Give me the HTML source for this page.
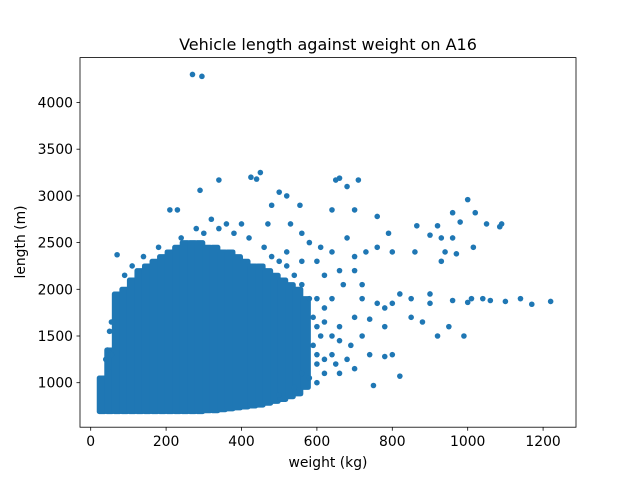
<!DOCTYPE html>
<html><head><meta charset="utf-8"><style>
body{margin:0;background:#fff;}
svg{display:block;font-family:"DejaVu Sans","Liberation Sans",sans-serif;}
</style></head><body>
<svg id="chart" width="640" height="480" viewBox="0 0 640 480">
<rect width="640" height="480" fill="#fff"/>
<text x="328" y="50" font-size="16" text-anchor="middle">Vehicle length against weight on A16</text>
<g id="plot"></g>
<rect x="80" y="57.6" width="496" height="369.6" fill="none" stroke="#000" stroke-width="0.8"/>
<g id="xt"></g>
<g id="yt"></g>
<text x="328" y="467" font-size="13.9" text-anchor="middle">weight (kg)</text>
<text transform="translate(25,242) rotate(-90)" font-size="13.9" text-anchor="middle">length (m)</text>
</svg>
<script>
const xTicks=[0,200,400,600,800,1000,1200];
const yTicks=[1000,1500,2000,2500,3000,3500,4000];
// dense core: per weight column, min and max length
const coreWeights=[30,50,70,90,110,130,150,170,190,210,230,250,270,290,310,330,350,370,390,410,430,450,470,490,510,530,550,570];
const coreMin=[690,690,690,690,690,690,690,690,690,690,690,690,690,690,700,700,710,720,730,740,750,760,780,800,820,850,880,950];
const coreMax=[1050,1350,1950,2000,2100,2200,2250,2300,2350,2400,2450,2500,2500,2500,2450,2450,2400,2400,2350,2300,2250,2250,2200,2150,2100,2050,2000,1900];
const ptWeights=[270,295,290,340,425,450,440,500,520,480,555,650,660,680,710,640,700,760,210,230,320,70,865,920,1000,1020,960,980,1050,1090,1085,790,900,930,960,1015,940,970,860,930,760,730,800,680,700,1220,1170,1140,1100,1060,1010,960,900,850,800,760,720,700,740,780,850,880,950,990,920,740,780,800,750,820,650,700,660,620,640,670,720,620,660,700,600,640,580,560,610,530,470,400,360,280,1000,1040,900,820,780,690,720,640,600,620,660,580,40,45,55,60,590,600,610,590,600,620,600,580,560,540,520,500,480,560,540,500,600,620,640,660,680,560,520,460,420,380,340,300,240,180,140,110,90,60,50,55,45];
const ptLengths=[4300,4280,3060,3170,3200,3250,3180,3040,3000,2900,2900,3170,3190,3100,3170,2850,2850,2780,2850,2850,2750,2370,2680,2680,2960,2820,2820,2720,2700,2700,2670,2600,2580,2550,2550,2450,2400,2380,2400,2300,2450,2400,2400,2550,2350,1870,1840,1900,1870,1880,1900,1880,1850,1900,1850,1850,1900,1700,1680,1600,1700,1650,1600,1500,1500,1300,1280,1300,970,1070,1200,1150,1600,1800,1900,2050,2050,2150,2200,2200,2300,2400,2500,2600,2450,2700,2700,2700,2700,2650,1860,1900,1950,1950,1800,1400,1500,1300,1000,1100,1100,1050,1250,1350,1650,1550,1700,1600,1500,1400,1300,1250,1200,1900,2050,2150,2250,2300,2350,1100,950,870,1900,1650,1500,1450,1250,2300,2400,2450,2550,2600,2650,2600,2550,2450,2350,2250,2150,1650,1550,1300,1150];
const X=v=>90.7+v*0.377;
const Y=v=>382.7-(v-1000)*0.0934;
const NS='http://www.w3.org/2000/svg';
const plot=document.getElementById('plot');
const C='#1f77b4';
coreWeights.forEach((w,i)=>{
  const r=document.createElementNS(NS,'rect');
  
  
  const x0=X(w-10)-1.5, x1=X(w+10)+1.5;
  r.setAttribute('x',x0);r.setAttribute('width',x1-x0);
  r.setAttribute('y',Y(coreMax[i])-2.5);r.setAttribute('height',Y(coreMin[i])-Y(coreMax[i])+5);
  r.setAttribute('rx',2.5);r.setAttribute('fill',C);
  plot.appendChild(r);
});
ptWeights.forEach((w,i)=>{
  const c=document.createElementNS(NS,'circle');
  
  
  c.setAttribute('cx',X(w));c.setAttribute('cy',Y(ptLengths[i]));c.setAttribute('r',2.8);c.setAttribute('fill',C);
  plot.appendChild(c);
});
const xt=document.getElementById('xt');
xTicks.forEach(t=>{
  const l=document.createElementNS(NS,'line');
  
  
  l.setAttribute('x1',X(t));l.setAttribute('x2',X(t));l.setAttribute('y1',427.2);l.setAttribute('y2',430.7);l.setAttribute('stroke','#000');l.setAttribute('stroke-width','0.8');
  xt.appendChild(l);
  const s=document.createElementNS(NS,'text');
  
  
  s.setAttribute('x',X(t));s.setAttribute('y',446);s.setAttribute('font-size','13.9');s.setAttribute('text-anchor','middle');
  s.textContent=t;xt.appendChild(s);
});
const yt=document.getElementById('yt');
yTicks.forEach(t=>{
  const l=document.createElementNS(NS,'line');
  
  
  l.setAttribute('x1',76.5);l.setAttribute('x2',80);l.setAttribute('y1',Y(t));l.setAttribute('y2',Y(t));l.setAttribute('stroke','#000');l.setAttribute('stroke-width','0.8');
  yt.appendChild(l);
  const s=document.createElementNS(NS,'text');
  
  
  s.setAttribute('x',73);s.setAttribute('y',Y(t)+5);s.setAttribute('font-size','13.9');s.setAttribute('text-anchor','end');
  s.textContent=t;yt.appendChild(s);
});
</script>
</body></html>
